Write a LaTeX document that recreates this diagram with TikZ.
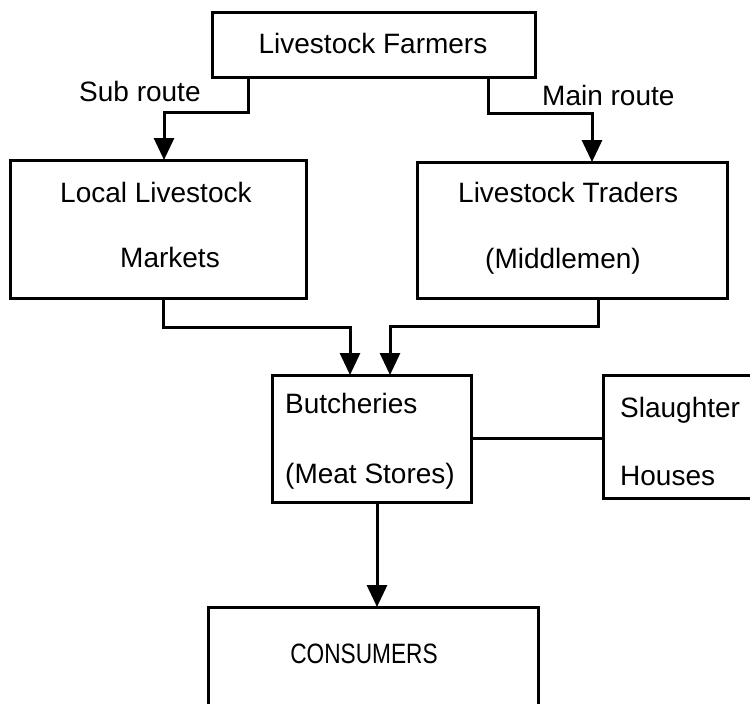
\documentclass[tikz,border=0pt]{standalone}
\usepackage{fontspec}
\setmainfont{Liberation Sans}
\usetikzlibrary{arrows.meta}

\tikzset{
  box/.style={draw, line width=3pt, inner sep=0pt, outer sep=0pt, line join=miter},
  openbox/.style={inner sep=0pt, outer sep=0pt},
  label/.style={inner sep=0pt, font=\fontsize{28}{32}\selectfont},
  link/.style={line width=3pt, line join=miter},
  flow/.style={link, -{Triangle[width=20pt,length=22pt]}}
}

\begin{document}
\begin{tikzpicture}[x=1pt, y=-1pt]
\useasboundingbox (0,0) rectangle (750,704);
\clip (0,0) rectangle (750,704);

% boxes
\node[box, minimum width=323pt, minimum height=65pt]  (farmers)   at (373.5,44.5) {};
\node[box, minimum width=296pt, minimum height=138pt] (local)     at (158,229) {};
\node[box, minimum width=310pt, minimum height=136pt] (traders)   at (572,230) {};
\node[box, minimum width=199pt, minimum height=127pt] (butcher)   at (371.5,438.5) {};
\node[box, minimum width=330pt, minimum height=133pt] (consumers) at (373,673.5) {};
% slaughter houses box runs off the right margin
\node[openbox, minimum width=280pt, minimum height=123pt] (slaughter) at (743,436.5) {};
\draw[link] (slaughter.north east) -- (slaughter.north west) -- (slaughter.south west) -- (slaughter.south east);

% box texts
\node[label, anchor=base] (tfarmers) at (373,53) {Livestock Farmers};
\node[label, anchor=base west] (tlocal1) at (60,202) {Local Livestock};
\node[label, anchor=base west] (tlocal2) at (120,267) {Markets};
\node[label, anchor=base west] (ttrad1) at (458,202) {Livestock Traders};
\node[label, anchor=base west] (ttrad2) at (485,268) {(Middlemen)};
\node[label, anchor=base west] (tbut1) at (285,413) {Butcheries};
\node[label, anchor=base west] (tbut2) at (285,483) {(Meat Stores)};
\node[label, anchor=base west] (tsl1) at (620,417) {Slaughter};
\node[label, anchor=base west] (tsl2) at (620,485) {Houses};
\node[label, anchor=base] (tcons) at (364,663) {\scalebox{0.81}[1]{CONSUMERS}};

% route labels
\node[label, anchor=base west] (tsub) at (79,101) {Sub route};
\node[label, anchor=base west] (tmain) at (542,105) {Main route};

% bend points
\coordinate (subdrop) at (248,112);
\coordinate (subturn) at (164,112);
\coordinate (maindrop) at (488,113);
\coordinate (mainturn) at (592,113);
\coordinate (locdrop) at (163,327);
\coordinate (locturn) at (350,327);
\coordinate (traddrop) at (598,326);
\coordinate (tradturn) at (390,326);
\coordinate (cdrop) at (377,502);

% connectors
\draw[flow] (farmers.south -| subdrop) -- (subdrop) -- (subturn) -- (local.north -| subturn);
\draw[flow] (farmers.south -| maindrop) -- (maindrop) -- (mainturn) -- (traders.north -| mainturn);
\draw[flow] (local.south -| locdrop) -- (locdrop) -- (locturn) -- (butcher.north -| locturn);
\draw[flow] (traders.south -| traddrop) -- (traddrop) -- (tradturn) -- (butcher.north -| tradturn);
\draw[link] (butcher.east) -- (slaughter.west |- butcher.east);
\draw[flow] (butcher.south -| cdrop) -- (consumers.north -| cdrop);
\end{tikzpicture}
\end{document}
